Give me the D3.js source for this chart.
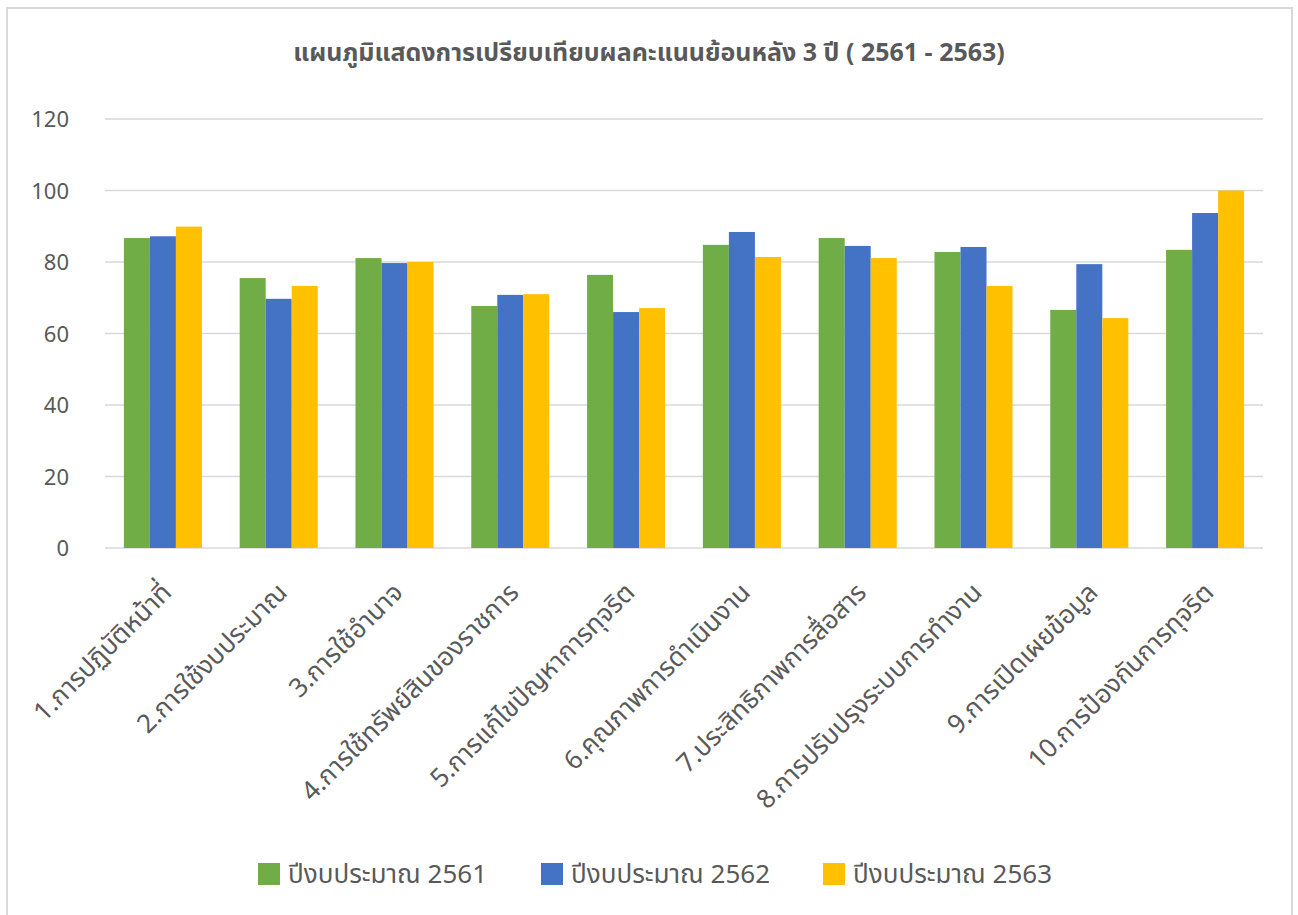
<!DOCTYPE html>
<html>
<head>
<meta charset="utf-8">
<script src="https://cdn.jsdelivr.net/npm/d3@7"></script>
<style>
  html, body { margin: 0; padding: 0; background: #fff; }
  svg { display: block; font-family: "Leelawadee UI", Tahoma, "Noto Sans Thai", "Noto Sans", "DejaVu Sans", sans-serif; }
  .grid line { stroke: #d9d9d9; stroke-width: 1.5; }
  .tick-label { fill: #595959; font-size: 22px; }
  .cat-label { fill: #595959; font-size: 26px; }
  .legend-text { fill: #595959; font-size: 26px; }
  .title { fill: #595959; font-size: 25px; font-weight: bold; }
</style>
</head>
<body>
<svg id="chart" width="1298" height="915"></svg>
<script>
// Categories (x axis) and the three budget years
const CATEGORIES = [
  "1.การปฏิบัติหน้าที่",
  "2.การใช้งบประมาณ",
  "3.การใช้อำนาจ",
  "4.การใช้ทรัพย์สินของราชการ",
  "5.การแก้ไขปัญหาการทุจริต",
  "6.คุณภาพการดำเนินงาน",
  "7.ประสิทธิภาพการสื่อสาร",
  "8.การปรับปรุงระบบการทำงาน",
  "9.การเปิดเผยข้อมูล",
  "10.การป้องกันการทุจริต",
];
const SERIES = ["ปีงบประมาณ 2561", "ปีงบประมาณ 2562", "ปีงบประมาณ 2563"];
const V2561 = [86.7, 75.5, 81.1, 67.7, 76.4, 84.8, 86.7, 82.8, 66.6, 83.4];
const V2562 = [87.2, 69.7, 79.7, 70.8, 66.0, 88.4, 84.5, 84.2, 79.4, 93.7];
const V2563 = [89.9, 73.3, 80.0, 71.0, 67.1, 81.4, 81.1, 73.3, 64.3, 100.0];
const Y_TICKS = [0, 20, 40, 60, 80, 100, 120];
const COLORS = ["#70ad47", "#4472c4", "#ffc000"];
const TITLE = "แผนภูมิแสดงการเปรียบเทียบผลคะแนนย้อนหลัง 3 ปี ( 2561 - 2563)";

const values = [V2561, V2562, V2563];
const svg = d3.select("#chart");

// Outer frame (Excel chart area border, bottom cut off)
svg.append("path")
  .attr("d", "M7,916 V8 H1292 V916")
  .attr("fill", "none")
  .attr("stroke", "#d9d9d9")
  .attr("stroke-width", 2);

const plot = { left: 105, right: 1263, top: 119, bottom: 548 };

const x = d3.scaleBand()
  .domain(CATEGORIES)
  .range([plot.left, plot.right])
  .paddingInner(0.326)
  .paddingOuter(0.163);

const xs = d3.scaleBand()
  .domain(d3.range(SERIES.length))
  .range([0, x.bandwidth()]);

const y = d3.scaleLinear().domain([0, 120]).range([plot.bottom, plot.top]);

// Title
svg.append("text")
  .attr("class", "title")
  .attr("x", 649)
  .attr("y", 61)
  .attr("text-anchor", "middle")
  .text(TITLE);

// Gridlines
svg.append("g")
  .attr("class", "grid")
  .selectAll("line")
  .data(Y_TICKS)
  .join("line")
  .attr("x1", plot.left)
  .attr("x2", plot.right)
  .attr("y1", (d) => y(d))
  .attr("y2", (d) => y(d));

// Y tick labels
svg.append("g")
  .selectAll("text")
  .data(Y_TICKS)
  .join("text")
  .attr("class", "tick-label")
  .attr("x", 69)
  .attr("y", (d) => y(d) + 8)
  .attr("text-anchor", "end")
  .text((d) => d);

// Bars
const groups = svg.append("g")
  .selectAll("g")
  .data(CATEGORIES)
  .join("g")
  .attr("transform", (d) => `translate(${x(d)},0)`);

groups.selectAll("rect")
  .data((d, i) => values.map((vals, s) => ({ s, v: vals[i] })))
  .join("rect")
  .attr("x", (d) => xs(d.s))
  .attr("width", xs.bandwidth())
  .attr("y", (d) => y(d.v))
  .attr("height", (d) => y(0) - y(d.v))
  .attr("fill", (d) => COLORS[d.s]);

// Category labels rotated -45
svg.append("g")
  .selectAll("text")
  .data(CATEGORIES)
  .join("text")
  .attr("class", "cat-label")
  .attr("text-anchor", "end")
  .attr("transform", (d) => {
    const cx = x(d) + x.bandwidth() / 2;
    return `translate(${cx + 10},${plot.bottom + 46}) rotate(-45)`;
  })
  .text((d) => d);

// Legend
const legendX = [258, 541, 823];
const legend = svg.append("g")
  .selectAll("g")
  .data(SERIES)
  .join("g")
  .attr("transform", (d, i) => `translate(${legendX[i]},863)`);

legend.append("rect")
  .attr("width", 22)
  .attr("height", 22)
  .attr("fill", (d, i) => COLORS[i]);

legend.append("text")
  .attr("class", "legend-text")
  .attr("x", 30)
  .attr("y", 20)
  .text((d) => d);
</script>
</body>
</html>
